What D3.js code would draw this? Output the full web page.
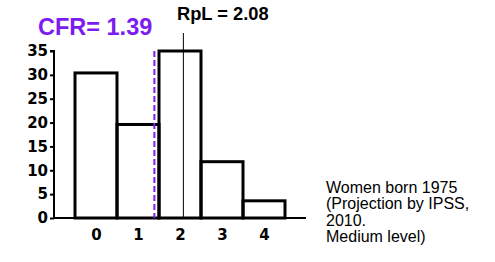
<html>
<head>
    <title>CFR histogram</title>
    <script src="https://d3js.org/d3.v7.min.js"></script>
    <style>
        body { margin: 0; background: #fff; }
    </style>
</head>
<body>
    <div id="graph"></div>
    <script>
        // births per woman (parity) distribution
        parities = [0, 1, 2, 3, 4];
        shares = [30.4, 19.6, 35.0, 11.8, 3.6];
        y_ticks = [0, 5, 10, 15, 20, 25, 30, 35];
        cfr = 1.39;
        rpl = 2.08;
        note_lines = ["Women born 1975", "(Projection by IPSS,", "2010.", "Medium level)"];

        svg = d3.select("#graph")
            .append("svg")
                .attr("width", 495)
                .attr("height", 262);

        x = d3.scaleLinear().domain([-1, 5]).range([54, 306]);
        y = d3.scaleLinear().domain([0, 35]).range([218, 51]);

        // bars
        svg.selectAll("rect.bar")
            .data(parities)
            .enter().append("rect")
                .attr("class", "bar")
                .attr("x", d => x(d - 0.5))
                .attr("width", d => x(d + 0.5) - x(d - 0.5))
                .attr("y", (d, i) => y(shares[i]))
                .attr("height", (d, i) => y(0) - y(shares[i]))
                .attr("fill", "none")
                .attr("stroke", "#000")
                .attr("stroke-width", 3);

        // y axis
        yAxis = svg.append("g")
            .attr("transform", `translate(${x(-1)},0)`)
            .call(d3.axisLeft(y).tickValues(y_ticks).tickSize(4).tickPadding(2));
        yAxis.select(".domain").attr("stroke-width", 2).attr("d", `M-4,${y(35)}H0V${y(0)}`);
        yAxis.selectAll("line").attr("stroke-width", 2);
        yAxis.selectAll("text")
            .attr("font-family", "DejaVu Sans")
            .attr("font-weight", "bold")
            .attr("font-size", 15)
            .attr("fill", "#000");

        // x axis
        xAxis = svg.append("g")
            .attr("transform", `translate(0,${y(0)})`)
            .call(d3.axisBottom(x).tickValues(parities).tickFormat(d3.format("d")).tickSize(0).tickPadding(11));
        xAxis.select(".domain").attr("stroke-width", 2).attr("d", `M${x(-1)},0H${x(5)}`);
        xAxis.selectAll("text")
            .attr("font-family", "DejaVu Sans")
            .attr("font-weight", "bold")
            .attr("font-size", 15)
            .attr("fill", "#000");

        // CFR line
        svg.append("line")
            .attr("x1", x(cfr)).attr("x2", x(cfr))
            .attr("y1", y(35)).attr("y2", y(0))
            .attr("stroke", "#7c1cf0")
            .attr("stroke-width", 2)
            .attr("stroke-dasharray", "6,3");
        svg.append("text")
            .attr("x", 38).attr("y", 35)
            .attr("font-family", "Liberation Sans")
            .attr("font-weight", "bold")
            .attr("font-size", 23.5)
            .attr("fill", "#7c1cf0")
            .text("CFR= " + cfr.toFixed(2));

        // RpL line
        svg.append("line")
            .attr("x1", x(rpl)).attr("x2", x(rpl))
            .attr("y1", 33).attr("y2", y(0))
            .attr("stroke", "#000")
            .attr("stroke-width", 1);
        svg.append("text")
            .attr("x", 177).attr("y", 20)
            .attr("font-family", "Liberation Sans")
            .attr("font-weight", "bold")
            .attr("font-size", 18.3)
            .attr("fill", "#000")
            .text("RpL = " + rpl.toFixed(2));

        // note
        svg.append("text")
            .attr("font-family", "Liberation Sans")
            .attr("font-size", 16)
            .attr("fill", "#000")
            .selectAll("tspan")
            .data(note_lines)
            .enter().append("tspan")
                .attr("x", 326)
                .attr("y", (d, i) => 193 + i * 16.3)
                .text(d => d);
    </script>
</body>
</html>
